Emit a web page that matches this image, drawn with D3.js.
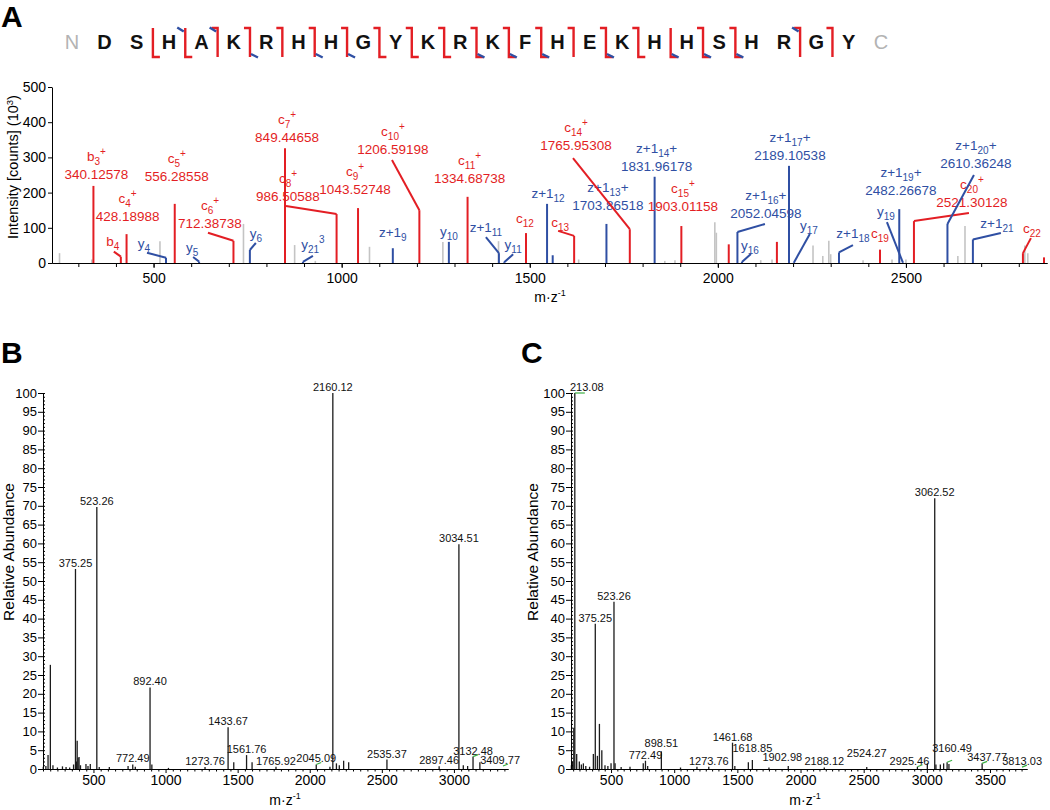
<!DOCTYPE html>
<html>
<head>
<meta charset="utf-8">
<script src="https://cdn.jsdelivr.net/npm/d3@7"></script>
<style>
  body { margin: 0; background: #fff; }
  svg text { font-family: "Liberation Sans", Arial, sans-serif; }
</style>
</head>
<body>
<div id="fig"></div>
<script>
// ---------- data ----------
const sequence = ["D","S","H","A","K","R","H","H","G","Y","K","R","K","F","H","E","K","H","H","S","H","R","G","Y"];
// cleavage sites, given as the residue number after which the bond breaks
const cSites = [4,5,6,7,8,9,10,11,12,13,14,15,16,17,19,20,22,23];
const zSites = [2,3,9,10,11,12,13,14,16,17,18,19,20];
const bSites = [3,4,22];
const ySites = [5,7,8,12,13,14,16,18,19,20];

// panel A: unassigned peaks [m/z, intensity x10^3]
const grayPeaksA = [[250,28],[336,10],[517,62],[739,111],[875,51],[930,6],[1074,46],[1269,60],[1417,62],
  [1630,10],[1859,6],[1886,8],[1992,116],[1996,86],[2114,8],[2144,10],[2253,50],[2279,20],[2295,63],
  [2300,25],[2386,8],[2463,10],[2500,10],[2521,8],[2638,20],[2657,105],[2816,50],[2824,28]];
// assigned but unlabelled peaks
const redPeaksA = [[2029,53],[2157,60],[2867,16]];
const bluePeaksA = [[1561,22]];
// labelled fragment ions: id, ion, subscript, superscript, suffix, m/z text, m/z, intensity
const ionPeaksA = [
  ["b3","b","3","+","","340.12578",340.12578,219],
  ["b4","b","4","","",null,413,18],
  ["c4","c","4","+","","428.18988",428.18988,82],
  ["y4","y","4","","",null,533,15],
  ["c5","c","5","+","","556.28558",556.28558,168],
  ["y5","y","5","","",null,621,4],
  ["c6","c","6","+","","712.38738",712.38738,63],
  ["y6","y","6","","",null,756,37],
  ["c7","c","7","+","","849.44658",849.44658,326],
  ["c8","c","8","+","","986.50588",986.50588,139],
  ["y21","y","21","3","",null,897,3],
  ["c9","c","9","+","","1043.52748",1043.52748,156],
  ["z9","z+1","9","","",null,1136,42],
  ["c10","c","10","+","","1206.59198",1206.59198,150],
  ["y10","y","10","","",null,1285,60],
  ["c11","c","11","+","","1334.68738",1334.68738,188],
  ["z11","z+1","11","","",null,1418,28],
  ["y11","y","11","","",null,1432,2],
  ["c12","c","12","","",null,1490,85],
  ["z12","z+1","12","","",null,1546,168],
  ["c13","c","13","","",null,1618,77],
  ["z13","z+1","13","","+","1703.86518",1703.86518,111],
  ["c14","c","14","+","","1765.95308",1765.95308,96],
  ["z14","z+1","14","","+","1831.96178",1831.96178,245],
  ["c15","c","15","+","","1903.01158",1903.01158,105],
  ["z16","z+1","16","","+","2052.04598",2052.04598,88],
  ["y16","y","16","","",null,2064,3],
  ["z17","z+1","17","","+","2189.10538",2189.10538,276],
  ["y17","y","17","","",null,2202,1],
  ["z18","z+1","18","","",null,2322,30],
  ["c19","c","19","","",null,2431,38],
  ["y19","y","19","","",null,2492,1],
  ["z19","z+1","19","","+","2482.26678",2482.26678,153],
  ["c20","c","20","+","","2521.30128",2521.30128,119],
  ["z20","z+1","20","","+","2610.36248",2610.36248,111],
  ["z21","z+1","21","","",null,2678,67],
  ["c22","c","22","","",null,2811,28]
];
const xTicksA = [500,1000,1500,2000,2500];
const yTicksA = [0,100,200,300,400,500];

// panel B: [m/z, relative abundance]
const peaksB = [[152,0.6],[170,0.8],[185,3.7],[201,27.7],[219,1.0],[250,0.4],[285,0.7],[310,0.5],[335,0.4],
  [362,1.2],[375.25,53.2],[382,2.0],[387,7.5],[393,3.0],[400,3.2],[410,1.0],[448,1.3],[462,0.8],[478,1.3],
  [523.26,69.7],[540,0.5],[610,0.5],[740,0.8],[772.49,1.2],[790,0.6],[892.40,21.7],[905,1.2],[1020,0.3],
  [1273.76,0.5],[1433.67,11.1],[1473,1.8],[1561.76,3.7],[1600,1.8],[1765.92,0.6],[2045.09,1.2],[2140,0.6],
  [2160.12,100],[2185,1.5],[2205,1.0],[2235,2.2],[2270,1.8],[2535.37,2.5],[2897.46,0.7],[3034.51,59.8],
  [3065,1.0],[3095,0.8],[3132.48,3.3],[3180,1.8],[3409.77,0.8]];
const labelsB = [375.25,523.26,772.49,892.40,1273.76,1433.67,1561.76,1765.92,2045.09,2160.12,2535.37,2897.46,3034.51,3132.48,3409.77];
const greenB = [2045.09,3132.48,3409.77];

// panel C
const peaksC = [[186,1.0],[195,2],[205,11],[213.08,100],[228,4],[249,2],[265,1.2],[281,1.5],[300,0.8],[330,0.6],
  [360,4],[375.25,38.6],[392,3.5],[408,12],[427,5],[452,1.0],[475,0.8],[500,1.5],[523.26,44.5],[532,1.5],
  [580,0.5],[650,0.6],[755,1.5],[772.49,2.2],[790,0.8],[898.51,4.7],[1050,0.4],[1180,0.6],[1273.76,0.6],
  [1461.68,7.0],[1480,0.8],[1587,1.8],[1618.85,2.4],[1750,0.4],[1902.98,0.8],[2188.12,0.4],[2524.27,0.5],
  [2925.46,0.6],[3004,1.5],[3062.52,72],[3072,1.2],[3107,1.2],[3133,1.5],[3160.49,1.8],[3175,1.3],
  [3437.77,1.5],[3813.03,0.5]];
const labelsC = [213.08,375.25,523.26,772.49,898.51,1273.76,1461.68,1618.85,1902.98,2188.12,2524.27,2925.46,3062.52,3160.49,3437.77,3813.03];
const greenC = [213.08,2925.46,3160.49,3437.77,3813.03];

const xTicksBC = [500,1000,1500,2000,2500,3000,3500];
const yTicksBC = d3.range(0, 101, 5);

// ---------- layout ----------
const W = 1050, H = 810;
const RED = "#e31e24", BLUE = "#2f4fa3", GRAY = "#c4c4c4", GREEN = "#3cb043";

// label / leader offsets in px from the top of each peak
const layoutA = {
  b3:{lab:[3,-7]}, b4:{lab:[-8,-11],lead:[-7,-5]}, c4:{lab:[1,-13]}, y4:{lab:[-22,-10],lead:[-19,-5]},
  c5:{lab:[2,-23]}, y5:{lab:[-7,-10],lead:[-6,-4.6]}, c6:{lab:[-23.5,-13],lead:[-25.5,-8]},
  y6:{lab:[6,-12],lead:[6,-7]}, c7:{lab:[2,-6]}, c8:{lab:[-48.6,-13],lead:[-50.6,-8]},
  y21:{lab:[10,-13],lead:[10,-6]}, c9:{lab:[-3,-14]}, z9:{lab:[0,-11]},
  c10:{lab:[-26.4,-56.2],lead:[-27.4,-50.2]}, y10:{lab:[0,-6]}, c11:{lab:[2,-14]},
  z11:{lab:[-13,-21],lead:[-13,-16]}, y11:{lab:[9,-13],lead:[9,-8]}, c12:{lab:[-1,-10]},
  z12:{lab:[1,-6]}, c13:{lab:[-14,-9],lead:[-16,-5]}, z13:{lab:[1.5,-14]},
  c14:{lab:[-53.8,-79.2],lead:[-56.8,-71.2]}, z14:{lab:[2,-6]}, c15:{lab:[1.6,-15]},
  z16:{lab:[28.5,-14],lead:[27.5,-8]}, y16:{lab:[8,-12],lead:[9,-8]}, z17:{lab:[1,-6]},
  y17:{lab:[15,-32.6],lead:[16,-28.6]}, z18:{lab:[14,-14.4],lead:[14,-7.4]}, c19:{lab:[0,-11.6]},
  y19:{lab:[-17,-46.6],lead:[-16,-40.6]}, z19:{lab:[1.7,-14]}, c20:{lab:[58,-14.1],lead:[55,-8.1]},
  z20:{lab:[28.5,-55.9],lead:[26.5,-48.9]}, z21:{lab:[24,-11.4],lead:[28,-6.4]}, c22:{lab:[9,-20],lead:[8,-15]}
};
const nudgeC = {"898.51":[0,-2], "1618.85":[0,-6], "1902.98":[-6,-3], "2524.27":[0,-8], "2925.46":[-8,0], "3160.49":[5,-8], "3437.77":[5,0]};

const svg = d3.select("#fig").append("svg").attr("width", W).attr("height", H);

// panel letters
[["A",1,27],["B",1,363],["C",521,363]].forEach(([t,x,y]) => {
  svg.append("text").attr("x", x).attr("y", y).attr("font-size", 30).attr("font-weight", "bold").text(t);
});

// ---------- sequence map ----------
const seqX = d3.scalePoint().domain(d3.range(sequence.length + 2)).range([72, 881]);
const seqG = svg.append("g");
seqG.append("text").attr("x", seqX(0)).attr("y", 49).attr("text-anchor", "middle")
  .attr("font-family", "'Open Sans', sans-serif").attr("font-size", 20).attr("fill", "#b3b3b3").text("N");
seqG.append("text").attr("x", seqX(sequence.length + 1)).attr("y", 49).attr("text-anchor", "middle")
  .attr("font-family", "'Open Sans', sans-serif").attr("font-size", 20).attr("fill", "#b3b3b3").text("C");
seqG.selectAll("text.res").data(sequence).join("text").attr("class", "res")
  .attr("x", (d, i) => seqX(i + 1)).attr("y", 49).attr("text-anchor", "middle")
  .attr("font-family", "'Open Sans', sans-serif").attr("font-weight", 700).attr("font-size", 20)
  .attr("fill", "#111").text(d => d);

const gapX = k => (seqX(k) + seqX(k + 1)) / 2;
const gaps = Array.from(new Set([...cSites, ...zSites])).sort((a, b) => a - b);
gaps.forEach(k => {
  const gx = gapX(k), c = cSites.includes(k), z = zSites.includes(k);
  let p = c ? `M${gx - 6},28H${gx}V57` : `M${gx},28V57`;
  if (z) p += `H${gx + 7}`;
  seqG.append("path").attr("d", p).attr("fill", "none").attr("stroke", RED).attr("stroke-width", 2.4);
});
bSites.forEach(k => {
  const gx = gapX(k);
  seqG.append("path").attr("d", `M${gx - 8},27.5L${gx - 1.5},31.5`).attr("stroke", BLUE).attr("stroke-width", 2.4);
});
ySites.forEach(k => {
  const gx = gapX(k);
  seqG.append("path").attr("d", `M${gx + 1},54L${gx + 8},57.5`).attr("stroke", BLUE).attr("stroke-width", 2.4);
});

// ---------- panel A ----------
const xA = d3.scaleLinear().domain([230, 2875]).range([52, 1047]);
const yA = d3.scaleLinear().domain([0, 500]).range([263, 87]);
const gA = svg.append("g");
const intFmt = d3.format("d");

function sticks(g, x, y, data, color, width) {
  g.append("g").selectAll("line").data(data.filter(d => d[0] >= x.domain()[0] && d[0] <= x.domain()[1]))
    .join("line")
    .attr("x1", d => x(d[0])).attr("x2", d => x(d[0]))
    .attr("y1", y(0)).attr("y2", d => y(d[1]))
    .attr("stroke", color).attr("stroke-width", width);
}

function ionText(g, x, y, base, sub, sup, tail, color) {
  const t = g.append("text").attr("x", x).attr("y", y).attr("text-anchor", "middle")
    .attr("fill", color).attr("font-size", 13.5);
  t.append("tspan").text(base);
  let shift = 0;
  if (sub) { t.append("tspan").attr("font-size", 10).attr("dy", 4).text(sub); shift = 4; }
  if (sup) { t.append("tspan").attr("font-size", 10).attr("dy", -6 - shift).text(sup); shift = -6; }
  if (tail) t.append("tspan").attr("dy", -shift).text(tail);
}

sticks(gA, xA, yA, grayPeaksA, GRAY, 1.6);
sticks(gA, xA, yA, redPeaksA, RED, 2);
sticks(gA, xA, yA, bluePeaksA, BLUE, 2);

ionPeaksA.forEach(d => {
  const [id, base, sub, sup, tail, mzText, mz, inten] = d;
  const col = (base === "b" || base === "c") ? RED : BLUE;
  const px = xA(mz), py = yA(inten);
  gA.append("line").attr("x1", px).attr("x2", px).attr("y1", yA(0)).attr("y2", py)
    .attr("stroke", col).attr("stroke-width", 2);
  const lay = layoutA[id];
  if (lay.lead) {
    gA.append("path").attr("d", `M${px},${py}L${px + lay.lead[0]},${py + lay.lead[1]}`)
      .attr("stroke", col).attr("stroke-width", 2).attr("fill", "none");
  }
  const lx = px + lay.lab[0], ly = py + lay.lab[1];
  if (mzText) {
    ionText(gA, lx, ly - 18, base, sub, sup, tail, col);
    gA.append("text").attr("x", lx).attr("y", ly).attr("text-anchor", "middle")
      .attr("fill", col).attr("font-size", 13.5).text(mzText);
  } else {
    ionText(gA, lx, ly, base, sub, sup, tail, col);
  }
});

function styleAxis(g, size) {
  g.selectAll("path,line").attr("stroke", "#000").attr("stroke-width", 1);
  g.selectAll("text").attr("font-size", size).attr("font-family", "'Liberation Sans', Arial, sans-serif").attr("fill", "#000");
}

gA.append("g").attr("transform", `translate(0,${yA(0)})`)
  .call(d3.axisBottom(xA).tickValues(d3.range(300, 2875, 100)).tickSize(4).tickFormat("").tickSizeOuter(0))
  .call(g => styleAxis(g, 14));
gA.append("g").attr("transform", `translate(0,${yA(0)})`)
  .call(d3.axisBottom(xA).tickValues(xTicksA).tickFormat(intFmt).tickSize(5).tickPadding(5).tickSizeOuter(0))
  .call(g => styleAxis(g, 14));
gA.append("g").attr("transform", `translate(${xA.range()[0]},0)`)
  .call(d3.axisLeft(yA).tickValues(yTicksA).tickFormat(intFmt).tickSize(4).tickPadding(2).tickSizeOuter(0))
  .call(g => styleAxis(g, 14));

function mzTitle(g, x, y) {
  const t = g.append("text").attr("x", x).attr("y", y).attr("text-anchor", "middle").attr("font-size", 14);
  t.append("tspan").text("m·z");
  t.append("tspan").attr("dy", -6).attr("font-size", 9).text("-1");
}
mzTitle(svg, 550, 302);
svg.append("text").attr("transform", "translate(18,167) rotate(-90)").attr("text-anchor", "middle")
  .attr("font-size", 14.5)
  .call(t => { t.append("tspan").text("Intensity [counts] (10"); t.append("tspan").attr("dy", -5).attr("font-size", 9.5).text("3"); t.append("tspan").attr("dy", 5).text(")"); });

// ---------- panels B and C ----------
function drawSpectrum(o) {
  const g = svg.append("g");
  const x = d3.scaleLinear().domain(o.mzRange).range(o.xRange);
  const y = d3.scaleLinear().domain([0, 100]).range([769, 393]);
  const fmt = d3.format(".2f");

  sticks(g, x, y, o.peaks, "#1c1c1c", 1.3);

  // axes
  g.append("g").attr("transform", `translate(${o.xRange[0]},0)`)
    .call(d3.axisRight(y).tickValues(d3.range(0, 101, 1)).tickSize(2).tickFormat("").tickSizeOuter(0))
    .call(a => styleAxis(a, 13));
  g.append("g").attr("transform", `translate(${o.xRange[0]},0)`)
    .call(d3.axisLeft(y).tickValues(yTicksBC).tickFormat(intFmt).tickSize(5).tickPadding(1).tickSizeOuter(0))
    .call(a => styleAxis(a, 13));
  const minor = d3.range(Math.ceil(o.mzRange[0] / 50) * 50, o.mzRange[1], 50).filter(v => v % 500 !== 0);
  g.append("g").attr("transform", `translate(0,${y(0)})`)
    .call(d3.axisBottom(x).tickValues(minor).tickSize(2.5).tickFormat("").tickSizeOuter(0))
    .call(a => styleAxis(a, 14));
  g.append("g").attr("transform", `translate(0,${y(0)})`)
    .call(d3.axisBottom(x).tickValues(xTicksBC.filter(v => v <= o.mzRange[1])).tickFormat(intFmt)
      .tickSize(4).tickPadding(2).tickSizeOuter(0))
    .call(a => styleAxis(a, 14));

  // peak labels
  o.labels.forEach(m => {
    const p = o.peaks.find(d => d[0] === m);
    const nud = (o.nudge || {})[String(m)] || [0, 0];
    const t = g.append("text").attr("y", y(p[1]) - 2 + nud[1]).attr("text-anchor", "middle")
      .attr("font-size", 11).attr("fill", "#111").text(fmt(m));
    const w = t.node().getComputedTextLength();
    let cx = x(m) + nud[0];
    cx = Math.max(o.xRange[0] - 1 + w / 2, Math.min(o.xRange[1] + o.overhang - w / 2, cx));
    t.attr("x", cx);
  });

  // small green markers
  o.green.forEach(m => {
    const p = o.peaks.find(d => d[0] === m);
    const gx = Math.min(x(m), o.xRange[1] - 5), gy = y(p[1]);
    const len = m === 213.08 ? 10 : 5;
    g.append("path").attr("d", `M${gx},${gy}L${gx + len},${gy - (len > 5 ? 0 : 2)}`)
      .attr("stroke", GREEN).attr("stroke-width", 1.2);
  });

  mzTitle(svg, o.titleX, 805);
  svg.append("text").attr("transform", `translate(${o.yTitleX},552) rotate(-90)`).attr("text-anchor", "middle")
    .attr("font-size", 15.5).text("Relative Abundance");
}

drawSpectrum({ peaks: peaksB, labels: labelsB, green: greenB, mzRange: [150, 3375], xRange: [43, 508],
  overhang: 12, titleX: 285, yTitleX: 14 });
drawSpectrum({ peaks: peaksC, labels: labelsC, green: greenC, nudge: nudgeC, mzRange: [183, 3793], xRange: [571, 1027],
  overhang: 15, titleX: 805, yTitleX: 538 });
</script>
</body>
</html>
